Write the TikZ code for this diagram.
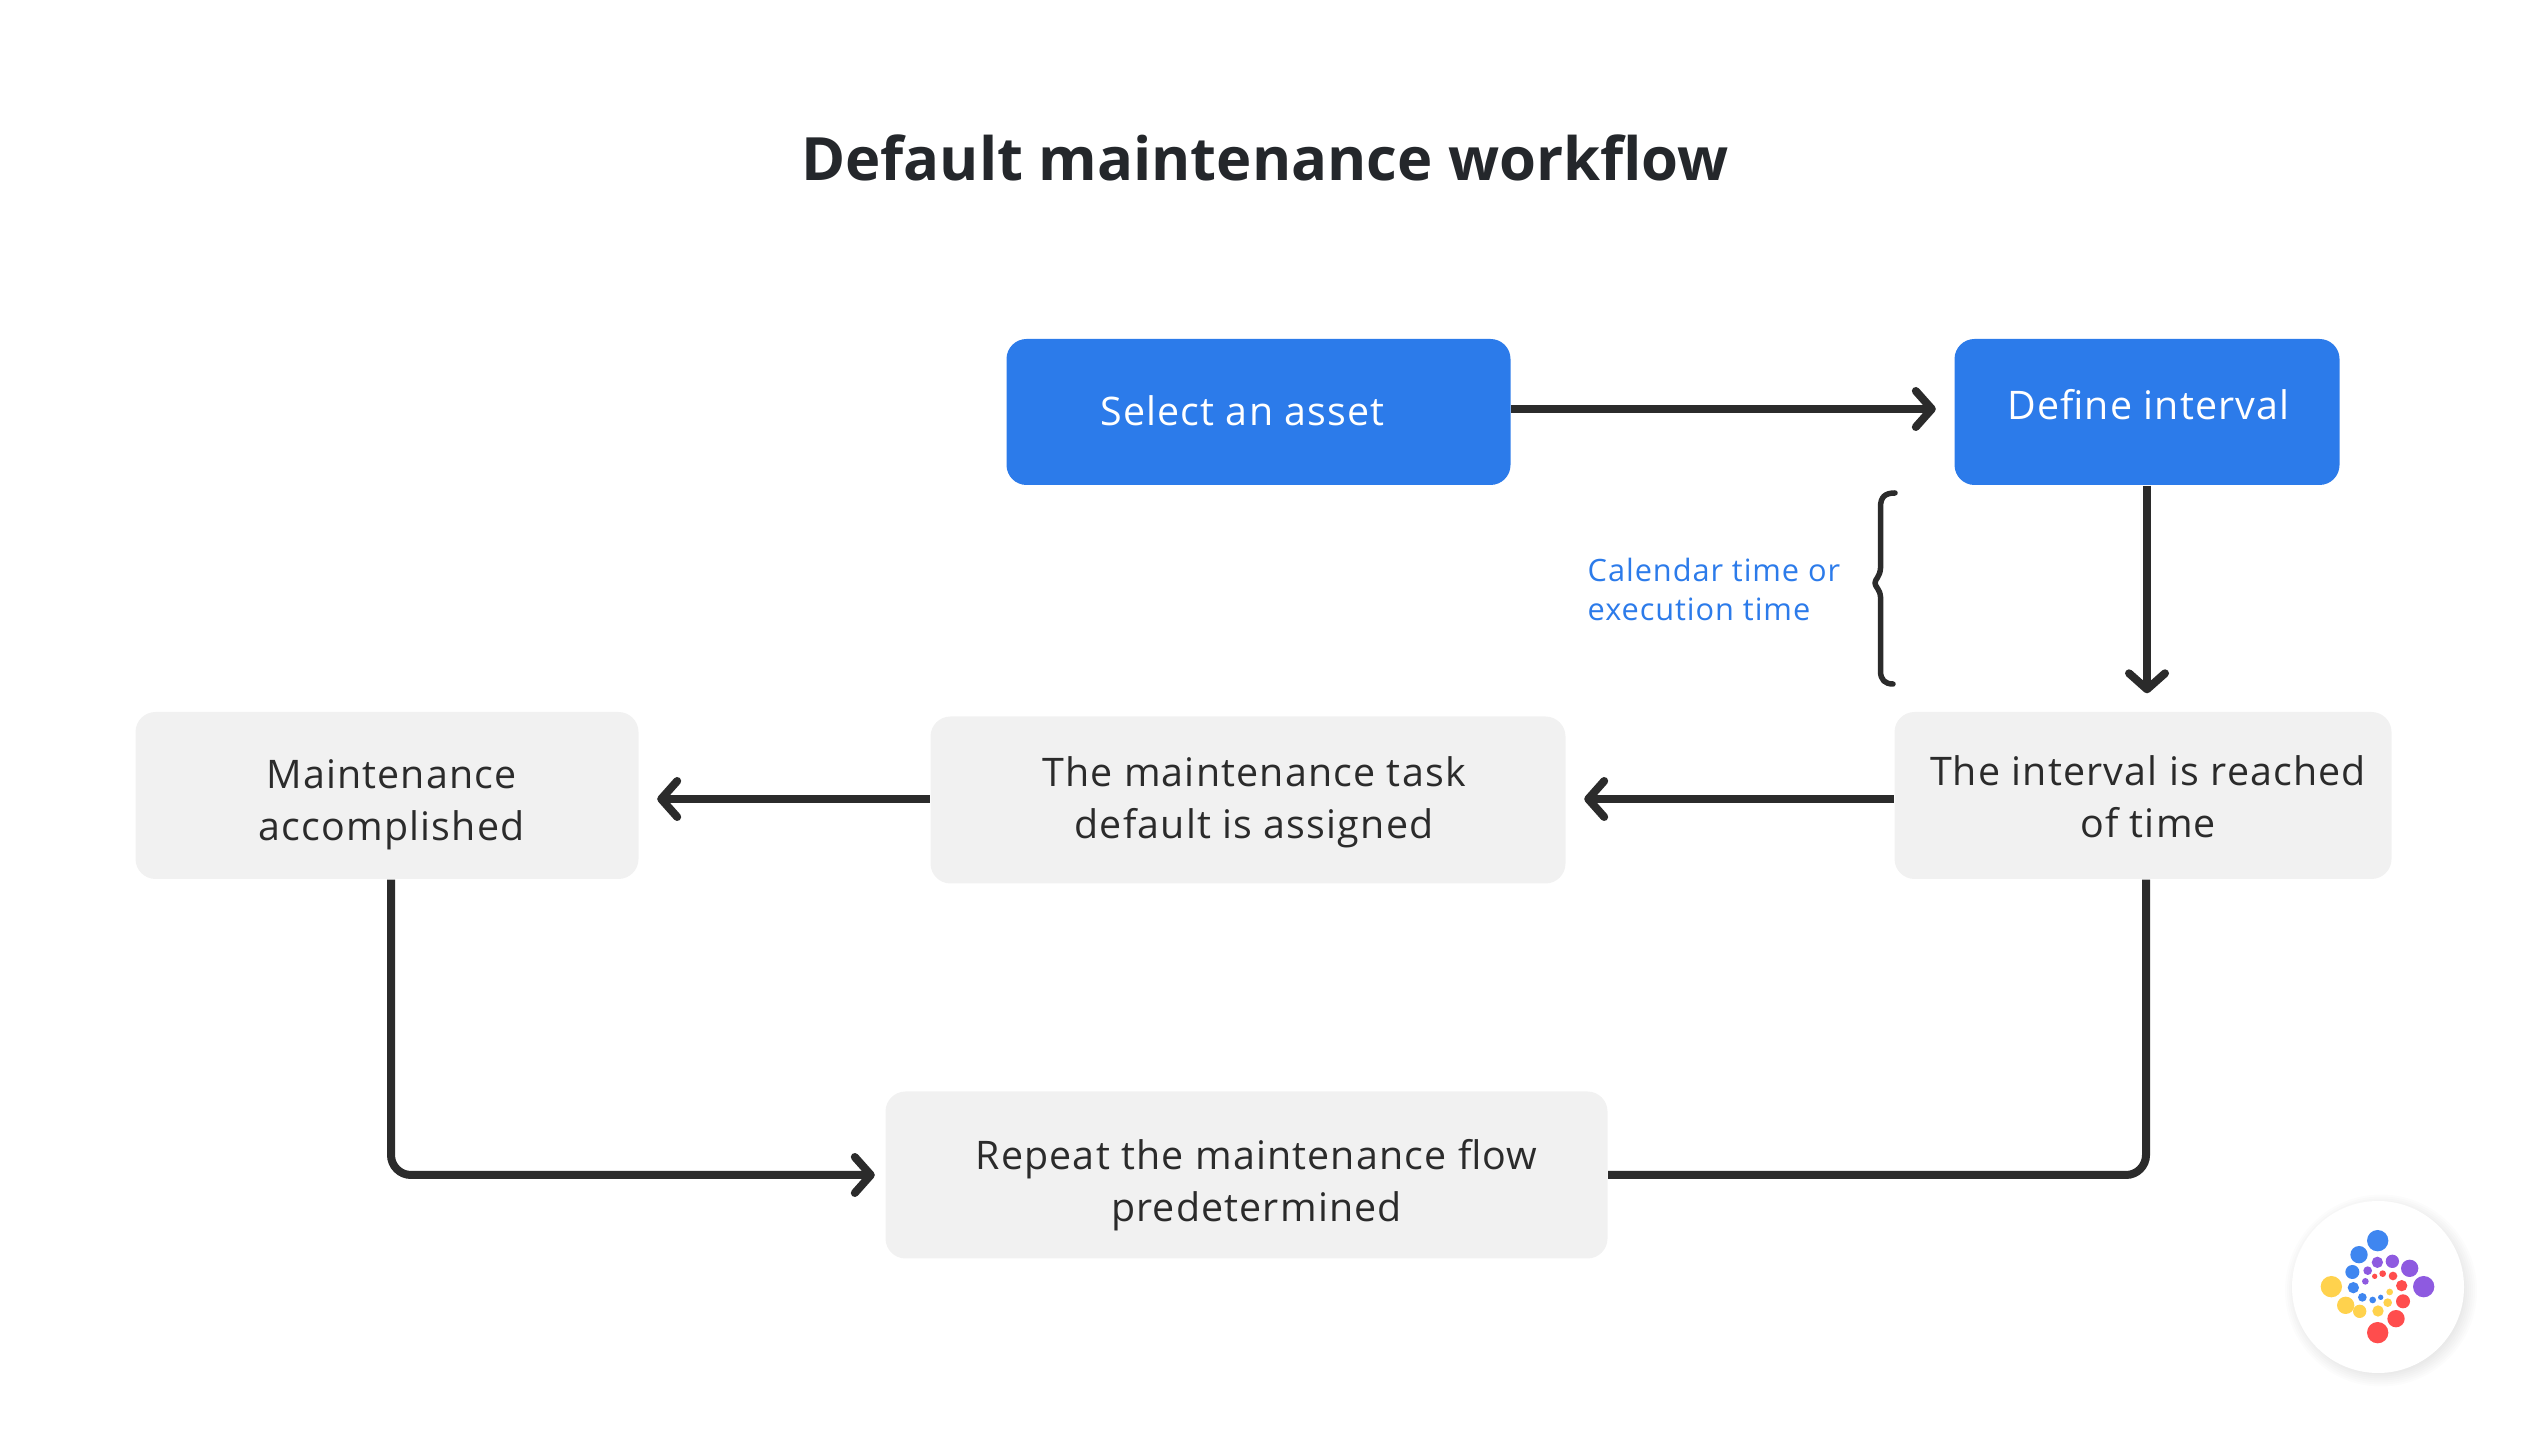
\documentclass[tikz,border=0pt]{standalone}
\usepackage{fontspec}
\setmainfont[LetterSpace=3]{Open Sans}
\usetikzlibrary{arrows.meta}
\definecolor{inkdark}{HTML}{2B2B2B}
\definecolor{titledark}{HTML}{24272B}
\definecolor{boxblue}{HTML}{2C7BEA}
\definecolor{boxgrey}{HTML}{F1F1F1}
\definecolor{dotblue}{HTML}{3F86F0}
\definecolor{dotpurple}{HTML}{8E5AE0}
\definecolor{dotred}{HTML}{FF4D4D}
\definecolor{dotyellow}{HTML}{FFD24D}
% text moved inside its box: right by half of #1, up by #2
\newcommand{\nudged}[3]{\hspace*{#1}\smash{\raisebox{\dimexpr#2-0.25em\relax}{%
  \begin{tabular}{@{}c@{}}#3\end{tabular}}}}
\tikzstyle{bluebox} = [rectangle, rounded corners=0.2cm, minimum height=1.46cm,
  fill=boxblue, text=white, font=\fontsize{11.2}{14.8}\selectfont]
\tikzstyle{greybox} = [rectangle, rounded corners=0.2cm, minimum height=1.67cm,
  fill=boxgrey, text=inkdark, font=\fontsize{11.2}{14.8}\selectfont]
\tikzstyle{arrow} = [line width=0.08cm, inkdark, ->,
  >={Straight Barb[length=0.16cm,width=0.36cm,round]}, shorten >=0.18cm]
\tikzstyle{flow} = [line width=0.08cm, inkdark, rounded corners=0.2cm]
\begin{document}
\begin{tikzpicture}[node distance=1cm]
\useasboundingbox (0,0) rectangle (25.29,14.29);

%% nodes
\node (title) at (12.65,12.71) [text=titledark,
  font=\fontsize{17}{22}\selectfont\bfseries\addfontfeature{LetterSpace=0}]
  {Default maintenance workflow};
\node (select) at (12.585,10.17) [bluebox, minimum width=5.04cm]
  {\nudged{-0.32cm}{-0.025cm}{Select an asset}};
\node (define) [bluebox, minimum width=3.85cm, right of=select, xshift=7.885cm]
  {\nudged{0.03cm}{0.03cm}{Define interval}};
\node (interval) [greybox, minimum width=4.97cm, below of=define, xshift=-0.04cm,
  yshift=-2.835cm] {\nudged{0.1cm}{-0.05cm}{The interval is reached\\of time}};
\node (task) [greybox, minimum width=6.35cm, left of=interval, xshift=-7.95cm,
  yshift=-0.045cm] {\nudged{0.12cm}{-0.016cm}{The maintenance task\\default is assigned}};
\node (done) [greybox, minimum width=5.03cm, left of=task, xshift=-7.61cm,
  yshift=0.045cm] {\nudged{0.09cm}{-0.08cm}{Maintenance\\accomplished}};
\node (repeatFlow) [greybox, minimum width=7.22cm, below of=task, xshift=-0.015cm,
  yshift=-2.75cm] {\nudged{0.2cm}{-0.095cm}{Repeat the maintenance flow\\predetermined}};
\node (calendar) at (15.87,8.40) [anchor=west, align=left, text=boxblue,
  inner sep=0pt, font=\fontsize{8.75}{11.1}\selectfont]
  {Calendar time or\\execution time};

%% paths
\draw [arrow] ([yshift=0.03cm]select.east) -- ([yshift=0.03cm]define.west);
\draw [arrow] (define.south) -- (define.south |- interval.north);
\draw [arrow] ([yshift=0.01cm]interval.west |- task.east) -- ([yshift=0.01cm]task.east);
\draw [arrow] ([yshift=0.01cm]task.west) -- ([yshift=0.01cm]task.west -| done.east);
\draw [flow] ([xshift=0.03cm]interval.south) |- (repeatFlow.east);
\draw [arrow, rounded corners=0.2cm, shorten >=0.10cm]
  ([xshift=0.04cm]done.south) |- (repeatFlow.west);

%% brace
\draw [line width=0.055cm, inkdark, line cap=round, line join=round]
  (18.95,9.36) .. controls (18.85,9.36) and (18.805,9.32) .. (18.805,9.22)
  -- (18.805,8.61) .. controls (18.80,8.52) and (18.75,8.50) .. (18.75,8.46)
  .. controls (18.75,8.42) and (18.80,8.40) .. (18.805,8.32)
  -- (18.805,7.58) .. controls (18.805,7.49) and (18.85,7.45) .. (18.93,7.45);

%% logo
\foreach \r in {0.96,0.94,...,0.80}
  \fill [black, opacity=0.012] (23.81,1.385) circle (\r);
\fill [white] (23.78,1.42) circle (0.86);
\foreach \x/\y/\r/\c in {
  353/182/32/dotblue, 297/224/26/dotblue, 277/276/21/dotblue, 280/323/17/dotblue,
  307/352/13/dotblue, 338/360/10/dotblue, 362/352/8/dotblue,
  491/320/32/dotpurple, 449/265/26/dotpurple, 397/244/20/dotpurple,
  352/247/17/dotpurple, 323/272/13/dotpurple, 316/304/10/dotpurple,
  353/458/32/dotred, 408/416/26/dotred, 429/364/21/dotred, 425/317/17/dotred,
  399/288/13/dotred, 368/281/10/dotred, 344/289/8/dotred,
  214/320/32/dotyellow, 257/376/26/dotyellow, 299/394/20/dotyellow,
  354/393/17/dotyellow, 383/368/13/dotyellow, 389/336/10/dotyellow}
  \fill [\c] ({22.60+\x/300},{2.49-\y/300}) circle ({\r/300});

\end{tikzpicture}
\end{document}
